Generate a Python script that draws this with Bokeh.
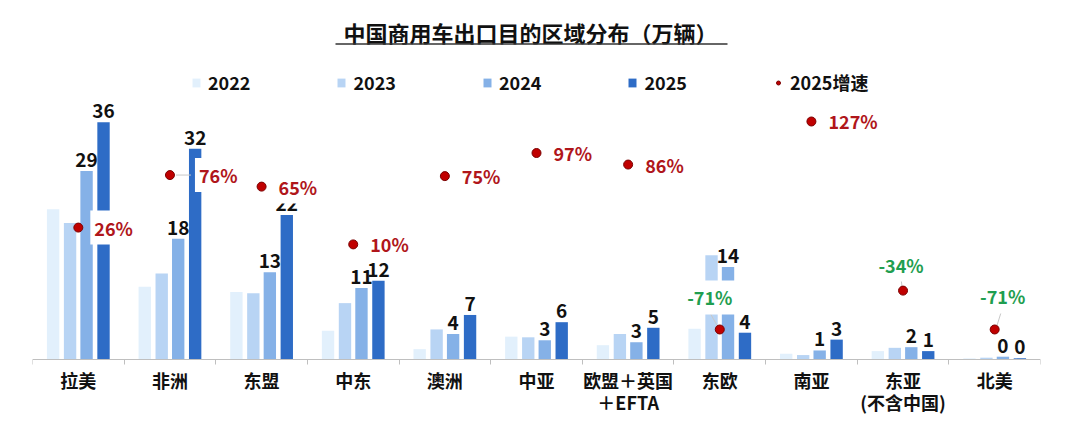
from bokeh.plotting import figure
from bokeh.models import Range1d, FixedTicker, ColumnDataSource, Legend, LegendItem
from bokeh.core.properties import value
from bokeh.embed import file_html
from bokeh.resources import INLINE

# ---------------- data ----------------
categories = ["拉美", "非洲", "东盟", "中东", "澳洲", "中亚", "欧盟＋英国\n＋EFTA",
              "东欧", "南亚", "东亚\n(不含中国)", "北美"]
years = ["2022", "2023", "2024", "2025"]
v2022 = [22.8, 11.0, 10.2, 4.3, 1.5, 3.4, 2.1, 4.6, 0.8, 1.2, 0.1]
v2023 = [20.7, 13.0, 10.0, 8.5, 4.5, 3.3, 3.8, 15.8, 0.6, 1.7, 0.2]
v2024 = [28.6, 18.3, 13.2, 10.8, 3.8, 2.85, 2.55, 14.0, 1.3, 1.8, 0.35]
v2025 = [36.0, 32.0, 21.9, 11.9, 6.7, 5.6, 4.75, 4.0, 2.95, 1.2, 0.1]
growth = [26, 76, 65, 10, 75, 97, 86, -71, 127, -34, -71]
growth_name = "2025增速"
title_text = "中国商用车出口目的区域分布（万辆）"

# ---------------- layout / style ----------------
FONT = value("Noto Sans CJK SC")
W, H = 1060, 420
ML, MR = 32, 20
FW = W - ML - MR
N = len(categories)
PAGE_TOP, PAGE_BOTTOM = 0, H          # frame spans full figure height
BASE_PAGE = 358.5                      # picture y of value 0
PX_Y = 6.573                           # px per 万辆
Y_MIN = -(PAGE_BOTTOM - BASE_PAGE) / PX_Y
Y_MAX = (BASE_PAGE - PAGE_TOP) / PX_Y
G0_PAGE, PX_G = 254.4, 1.0505          # growth: picture y of 0%, px per %
G_MIN = -(PAGE_BOTTOM - G0_PAGE) / PX_G
G_MAX = (G0_PAGE - PAGE_TOP) / PX_G
PX_X = FW / N


def page_to_y(py):
    return (BASE_PAGE - py) / PX_Y


def page_to_x(px):
    return (px - ML) / PX_X


colors = ["#e2f0fc", "#b8d4f4", "#85b1e7", "#2e6cc6"]
offsets = [-0.275, -0.09, 0.09, 0.275]
BAR_W = 0.135
RED_TXT = "#b0161b"
GREEN_TXT = "#1f9e50"

p = figure(width=W, height=H, x_range=Range1d(0, N), y_range=Range1d(Y_MIN, Y_MAX),
           output_backend="svg", toolbar_location=None, y_axis_location=None,
           min_border_left=ML, min_border_right=MR, min_border_top=0,
           min_border_bottom=0, outline_line_color=None,
           background_fill_color="white", border_fill_color="white")
p.extra_y_ranges = {"g": Range1d(G_MIN, G_MAX)}
p.xgrid.visible = False
p.ygrid.visible = False

centers = [i + 0.5 for i in range(N)]

# x axis at value 0: labels at category centres, ticks at boundaries
ax = p.xaxis[0]
ax.fixed_location = 0
ax.ticker = FixedTicker(ticks=centers, minor_ticks=list(range(N + 1)))
ax.major_label_overrides = {c: lab for c, lab in zip(centers, categories)}
ax.axis_line_color = "#bfbfbf"
ax.major_tick_line_color = None
ax.major_tick_in = 0
ax.major_tick_out = 5
ax.minor_tick_line_color = "#bfbfbf"
ax.minor_tick_in = 0
ax.minor_tick_out = 5
ax.major_label_standoff = 3
ax.major_label_text_font = "Noto Sans CJK SC"
ax.major_label_text_font_size = "18px"
ax.major_label_text_font_style = "bold"
ax.major_label_text_color = "#111111"
ax.major_label_text_line_height = 0.84

# bars
series = [v2022, v2023, v2024, v2025]
bar_renderers = []
for vals, off, col in zip(series, offsets, colors):
    src = ColumnDataSource(dict(x=[c + off for c in centers], top=vals))
    r = p.vbar(x="x", top="top", bottom=0, width=BAR_W, source=src, fill_color=col,
               line_color=None)
    bar_renderers.append(r)

# value labels for 2024 and 2025
for vals, off in ((v2024, offsets[2]), (v2025, offsets[3])):
    src = ColumnDataSource(dict(x=[c + off for c in centers], y=vals,
                                t=[f"{v:.0f}" for v in vals]))
    p.text(x="x", y="y", text="t", source=src, text_align="center",
           text_baseline="alphabetic", y_offset=-11, text_font=FONT,
           text_font_size="19px", text_font_style="bold", text_color="#111111")

# growth labels
pos_dx = [12, 25, 13, 13, 13, 13, 13, 13, 13, 13, 13]
neg_off = {7: (-10, -32), 9: (-2, -26), 10: (8, -33)}
neg_line = {7: ((-10, -17), (-1, -1)), 9: ((-2, -12), (-1, -4)), 10: ((7, -19), (2, -3))}

pi = [i for i in range(N) if growth[i] >= 0]
ni = [i for i in range(N) if growth[i] < 0]

# leader lines
lx0, ly0, lx1, ly1 = [], [], [], []
for i in ni:
    (a, b), (c, d) = neg_line[i]
    lx0.append(centers[i] + a / PX_X); ly0.append(growth[i] - b / PX_G)
    lx1.append(centers[i] + c / PX_X); ly1.append(growth[i] - d / PX_G)
lx0.append(centers[1] + 6 / PX_X); ly0.append(growth[1])
lx1.append(centers[1] + 21 / PX_X); ly1.append(growth[1])
p.segment(x0=lx0, y0=ly0, x1=lx1, y1=ly1, y_range_name="g",
          line_color="#c8c8c8", line_width=1)

psrc = ColumnDataSource(dict(x=[centers[i] for i in pi], y=[growth[i] for i in pi],
                             t=[f"{growth[i]}%" for i in pi],
                             dx=[pos_dx[i] for i in pi]))
p.text(x="x", y="y", text="t", source=psrc, y_range_name="g", x_offset="dx",
       text_align="left", text_baseline="middle", text_font=FONT,
       text_font_size="18px", text_font_style="bold", text_color=RED_TXT,
       background_fill_color="white", padding=4)

nsrc = ColumnDataSource(dict(x=[centers[i] for i in ni], y=[growth[i] for i in ni],
                             t=[f"{growth[i]}%" for i in ni],
                             dx=[neg_off[i][0] for i in ni],
                             dy=[neg_off[i][1] for i in ni]))
p.text(x="x", y="y", text="t", source=nsrc, y_range_name="g", x_offset="dx",
       y_offset="dy", text_align="center", text_baseline="middle", text_font=FONT,
       text_font_size="18px", text_font_style="bold", text_color=GREEN_TXT,
       background_fill_color="white", padding=4)

dots = p.scatter(x=centers, y=growth, y_range_name="g", size=9,
                 fill_color="#c00000", line_color="#7a0000", line_width=1)

# title with underline
p.text(x=[page_to_x(530)], y=[page_to_y(31)], text=[title_text], text_align="center",
       text_baseline="middle", text_font=FONT, text_font_size="22px",
       text_font_style="bold", text_color="#111111")
p.segment(x0=[page_to_x(335)], x1=[page_to_x(727)], y0=[page_to_y(43.5)],
          y1=[page_to_y(43.5)], line_color="#333333", line_width=1.5)

# legend
items = [LegendItem(label=y, renderers=[r]) for y, r in zip(years, bar_renderers)]
items.append(LegendItem(label=growth_name, renderers=[dots]))
legend = Legend(items=items, orientation="horizontal",
                location=(159, int(PAGE_BOTTOM - 94.5)),
                glyph_width=10, glyph_height=11, label_standoff=7, spacing=86,
                padding=0, margin=0, border_line_color=None,
                background_fill_alpha=0, label_text_font="Noto Sans CJK SC",
                label_text_font_size="18px", label_text_font_style="bold",
                label_text_color="#111111")
p.add_layout(legend)

open("out.html", "w").write(file_html(p, INLINE))
